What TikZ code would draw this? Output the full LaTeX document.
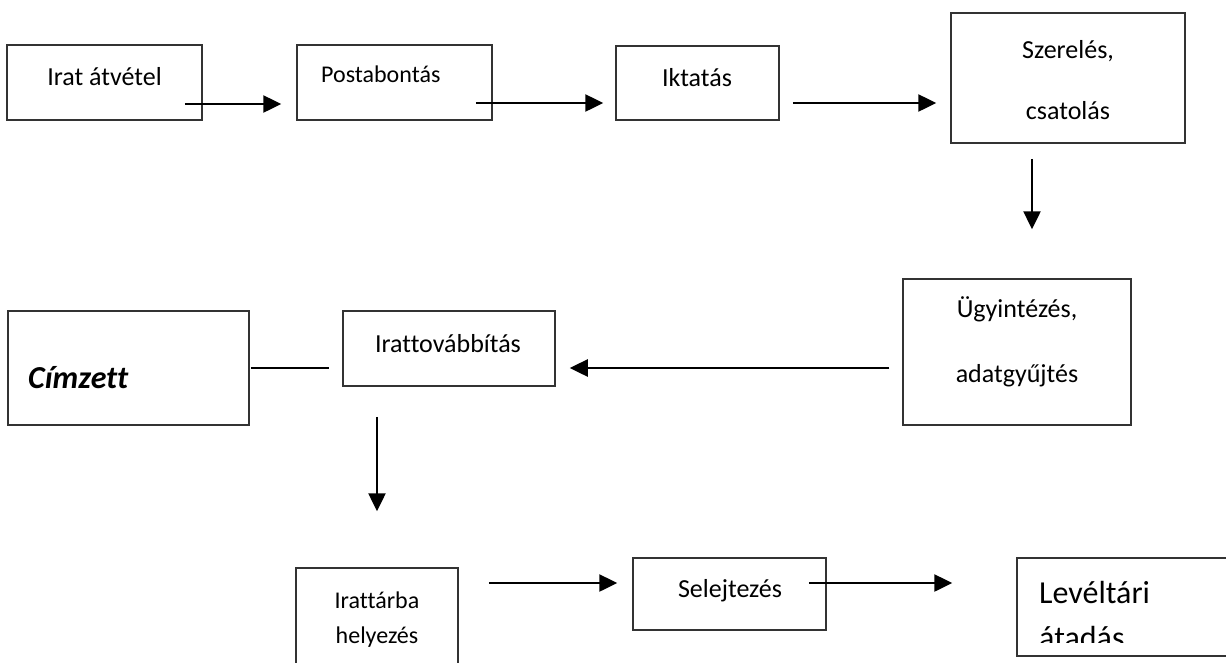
\documentclass[tikz,border=0pt]{standalone}
\usepackage{fontspec}
\setmainfont{Carlito}[Ligatures=NoCommon]
\usetikzlibrary{arrows.meta}

\begin{document}
\begin{tikzpicture}[x=1pt,y=-1pt,>={Triangle[length=18pt,width=17pt]}]
  \tikzstyle{box}=[draw=black!80,line width=1.5pt,inner sep=0pt]
  \tikzstyle{txt}=[anchor=base,inner sep=0pt,font=\fontsize{26}{30}\selectfont]
  \tikzstyle{flow}=[line width=2.5pt,->]
  \clip (0,0) rectangle (1226,662);
  % boxes
  \node[box,minimum width=195pt,minimum height=75pt] (irat) at (104.5,82.5) {};
  \node[box,minimum width=195pt,minimum height=75pt] (posta) at (394.5,82.5) {};
  \node[box,minimum width=163pt,minimum height=74pt] (iktat) at (697.5,83) {};
  \node[box,minimum width=234pt,minimum height=130pt] (szerel) at (1068,78) {};
  \node[box,minimum width=228pt,minimum height=146pt] (ugy) at (1017,352) {};
  \node[box,minimum width=212pt,minimum height=75pt] (tovabb) at (449,348.5) {};
  \node[box,minimum width=241pt,minimum height=114pt] (cimzett) at (128.5,368) {};
  \node[box,minimum width=162pt,minimum height=132pt] (irattar) at (377,634) {};
  \node[box,minimum width=193pt,minimum height=72pt] (selej) at (729.5,594) {};
  \node[box,minimum width=223pt,minimum height=98pt] (level) at (1128.5,607) {};
  % texts
  \node[txt] (irat-t) at (104.5,85) {Irat átvétel};
  \node[txt,anchor=base west,font=\fontsize{24}{28}\selectfont] (posta-t) at (321,82) {Postabontás};
  \node[txt] (iktat-t) at (697,86) {Iktatás};
  \node[txt] (szerel-1) at (1068,58) {Szerelés,};
  \node[txt] (szerel-2) at (1068,119) {csatolás};
  \node[txt] (ugy-1) at (1017,317) {Ügyintézés,};
  \node[txt] (ugy-2) at (1017,382) {adatgyűjtés};
  \node[txt] (tovabb-t) at (448,352) {Irattovábbítás};
  \node[txt,anchor=base west,font=\fontsize{32}{38}\selectfont\bfseries\itshape] (cimzett-t) at (28,388) {Címzett};
  \node[txt,font=\fontsize{24}{28}\selectfont] (irattar-1) at (377,608) {Irattárba};
  \node[txt,font=\fontsize{24}{28}\selectfont] (irattar-2) at (377,643) {helyezés};
  \node[txt] (selej-t) at (730,597) {Selejtezés};
  \begin{scope}
    \clip (1017,550) rectangle (1226,642);
    \node[txt,anchor=base west,font=\fontsize{32}{38}\selectfont] (level-1) at (1039,603) {Levéltári};
    \node[txt,anchor=base west,font=\fontsize{32}{38}\selectfont] (level-2) at (1039,648) {átadás};
  \end{scope}
  % arrows
  \draw[flow] ([shift={(-18,21.5)}]irat.east) -- ([shift={(-15,21.5)}]posta.west);
  \draw[flow] ([shift={(-17,20.5)}]posta.east) -- ([shift={(-12,20)}]iktat.west);
  \draw[flow] ([shift={(13,20)}]iktat.east) -- ([shift={(-14,25)}]szerel.west);
  \draw[flow] ([shift={(-36,15)}]szerel.south) -- ([shift={(15,-49)}]ugy.north);
  \draw[flow] ([shift={(-13,16)}]ugy.west) -- ([shift={(14,19.5)}]tovabb.east);
  \draw[line width=2.5pt] ([shift={(1,0)}]cimzett.east) -- ([shift={(-13,19.5)}]tovabb.west);
  \draw[flow] ([shift={(-72,30)}]tovabb.south) -- ([shift={(0,-56)}]irattar.north);
  \draw[flow] ([shift={(30,-51)}]irattar.east) -- ([shift={(-15,-11)}]selej.west);
  \draw[flow] ([shift={(-18,-11)}]selej.east) -- ([shift={(-64,-24)}]level.west);
\end{tikzpicture}
\end{document}
